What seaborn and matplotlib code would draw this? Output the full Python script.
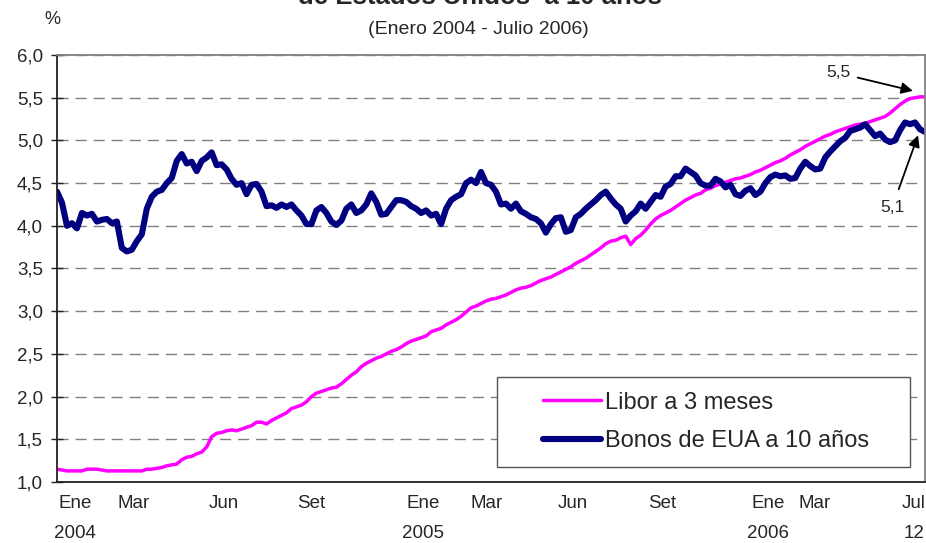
import matplotlib
matplotlib.use("Agg")
import matplotlib.pyplot as plt
from matplotlib.patches import Rectangle
import seaborn as sns
import pandas as pd

# Weekly-ish readings, Jan 2004 - 12 Jul 2006 (equal spacing)
libor = [
    1.15, 1.14, 1.13, 1.13, 1.13, 1.13, 1.15, 1.15, 1.15, 1.14,
    1.13, 1.13, 1.13, 1.13, 1.13, 1.13, 1.13, 1.13, 1.15, 1.15,
    1.16, 1.17, 1.19, 1.20, 1.21, 1.26, 1.29, 1.30, 1.33, 1.35,
    1.41, 1.53, 1.57, 1.58, 1.60, 1.61, 1.60, 1.62, 1.64, 1.66,
    1.70, 1.70, 1.68, 1.72, 1.75, 1.78, 1.81, 1.86, 1.88, 1.90,
    1.94, 2.00, 2.04, 2.06, 2.08, 2.10, 2.11, 2.15, 2.20, 2.25,
    2.29, 2.35, 2.39, 2.42, 2.45, 2.47, 2.50, 2.53, 2.55, 2.58,
    2.62, 2.65, 2.67, 2.69, 2.71, 2.76, 2.78, 2.80, 2.84, 2.87,
    2.90, 2.94, 2.99, 3.04, 3.06, 3.09, 3.12, 3.14, 3.15, 3.17,
    3.19, 3.22, 3.25, 3.27, 3.28, 3.30, 3.33, 3.36, 3.38, 3.40,
    3.43, 3.46, 3.49, 3.52, 3.56, 3.59, 3.62, 3.66, 3.70, 3.74,
    3.79, 3.82, 3.83, 3.86, 3.88, 3.78, 3.85, 3.89, 3.95, 4.02,
    4.08, 4.12, 4.15, 4.18, 4.22, 4.26, 4.30, 4.33, 4.36, 4.38,
    4.42, 4.44, 4.47, 4.49, 4.51, 4.53, 4.55, 4.56, 4.58, 4.60,
    4.63, 4.65, 4.68, 4.71, 4.74, 4.76, 4.79, 4.83, 4.86, 4.89,
    4.93, 4.96, 4.99, 5.02, 5.05, 5.07, 5.10, 5.12, 5.14, 5.16,
    5.18, 5.19, 5.20, 5.22, 5.24, 5.26, 5.28, 5.32, 5.37, 5.42,
    5.46, 5.49, 5.50, 5.51, 5.51,
]

bonos = [
    4.40, 4.27, 4.00, 4.03, 3.97, 4.15, 4.12, 4.14, 4.05, 4.07,
    4.08, 4.03, 4.05, 3.74, 3.70, 3.72, 3.82, 3.90, 4.20, 4.34,
    4.40, 4.42, 4.50, 4.56, 4.76, 4.84, 4.73, 4.75, 4.64, 4.76,
    4.80, 4.86, 4.71, 4.72, 4.66, 4.55, 4.48, 4.50, 4.37, 4.48,
    4.49, 4.40, 4.23, 4.24, 4.21, 4.25,
    4.22, 4.25, 4.18, 4.12, 4.02, 4.02, 4.18, 4.22, 4.15, 4.05,
    4.01, 4.06, 4.20, 4.25, 4.15, 4.18, 4.25, 4.38, 4.28, 4.13,
    4.14, 4.22, 4.30, 4.30, 4.28, 4.23, 4.20, 4.15, 4.18, 4.12,
    4.14, 4.02, 4.20, 4.30, 4.34, 4.37, 4.50, 4.54, 4.50, 4.63,
    4.50, 4.48, 4.40, 4.25,
    4.26, 4.20, 4.26, 4.17, 4.14, 4.10, 4.08, 4.03, 3.92, 4.02,
    4.09, 4.10, 3.93, 3.95, 4.10, 4.14, 4.20, 4.25, 4.30, 4.36,
    4.40, 4.32, 4.25, 4.20, 4.05, 4.12, 4.17, 4.26, 4.20, 4.28,
    4.36, 4.34, 4.46, 4.49, 4.58, 4.58, 4.67, 4.63, 4.59, 4.50,
    4.47, 4.47, 4.55, 4.52,
    4.45, 4.48, 4.37, 4.35, 4.41, 4.44, 4.36, 4.40, 4.50, 4.57,
    4.60, 4.58, 4.59, 4.55, 4.56, 4.67, 4.75, 4.70, 4.66, 4.67,
    4.80, 4.87, 4.93, 4.99, 5.03, 5.11, 5.13, 5.15, 5.19, 5.12,
    5.05, 5.08, 5.01, 4.98, 5.00, 5.12, 5.21, 5.19, 5.21, 5.13,
    5.10,
]

fechas = pd.date_range("2004-01-01", "2006-07-12", periods=len(libor))

tick_labels = ["Ene\n2004", "Mar", "Jun", "Set", "Ene\n2005", "Mar",
               "Jun", "Set", "Ene\n2006", "Mar", "Jul\n12"]
tick_dates = pd.to_datetime([
    "2004-01-20", "2004-03-23", "2004-06-26", "2004-09-27", "2005-01-24",
    "2005-04-02", "2005-07-03", "2005-10-05", "2006-01-26", "2006-03-17",
    "2006-06-30",
])

df = pd.DataFrame({"fecha": fechas, "libor": libor, "bonos": bonos})

sns.set_style("white")
plt.rcParams["font.family"] = ["Liberation Sans", "DejaVu Sans"]

fig = plt.figure(figsize=(9.26, 5.43), dpi=100)
ax = fig.add_axes([57 / 926, 1 - 482 / 543, 868 / 926, 427 / 543])

sns.lineplot(data=df, x="fecha", y="libor", ax=ax, color="#FF00FF",
             linewidth=2.5, label="Libor a 3 meses")
sns.lineplot(data=df, x="fecha", y="bonos", ax=ax, color="#000080",
             linewidth=4.4, label="Bonos de EUA a 10 años",
             solid_joinstyle="round", solid_capstyle="round")

ax.set_xlim(fechas[0], fechas[-1])
ax.set_ylim(1.0, 6.0)
yt = [1.0, 1.5, 2.0, 2.5, 3.0, 3.5, 4.0, 4.5, 5.0, 5.5, 6.0]
ax.set_yticks(yt)
ax.set_yticklabels([f"{v:.1f}".replace(".", ",") for v in yt], fontsize=13.5)
ax.set_xticks(tick_dates)
ax.set_xticklabels(tick_labels, fontsize=13.5, linespacing=2.05, va="top")
ax.tick_params(axis="x", length=0, pad=9)
ax.tick_params(axis="y", direction="inout", length=9, width=1,
               color="#222222", pad=5.5, left=True)
ax.set_xlabel("")
ax.set_ylabel("")

ax.yaxis.grid(True, color="#808080", linestyle=(0, (8, 5)), linewidth=1)
ax.set_axisbelow(True)

for side in ["left", "bottom"]:
    ax.spines[side].set_color("#222222")
    ax.spines[side].set_linewidth(1.3)
for side in ["top", "right"]:
    ax.spines[side].set_color("#808080")
    ax.spines[side].set_linewidth(1.3)

# legend box drawn separately to get the wide side padding of the original
ax.add_patch(Rectangle((0.507, 0.035), 0.476, 0.211, transform=ax.transAxes,
                       facecolor="white", edgecolor="#555555", lw=1.0,
                       zorder=4))
leg = ax.legend(loc="center", bbox_to_anchor=(0.748, 0.1405),
                fontsize=17, frameon=False, handlelength=2.45,
                handletextpad=0.2, borderpad=0.2, labelspacing=0.7,
                borderaxespad=0)
leg.set_zorder(5)
for h in leg.get_lines():
    h.set_solid_capstyle("round")

ax.annotate("5,5", xy=(0.986, 0.916), xycoords="axes fraction",
            xytext=(0.900, 0.958), textcoords="axes fraction",
            fontsize=12.5, ha="center", va="center",
            arrowprops=dict(arrowstyle="-|>", color="black", lw=1.3,
                            mutation_scale=17, shrinkA=3, shrinkB=0))
ax.annotate("5,1", xy=(0.992, 0.812), xycoords="axes fraction",
            xytext=(0.962, 0.642), textcoords="axes fraction",
            fontsize=12.5, ha="center", va="center",
            arrowprops=dict(arrowstyle="-|>", color="black", lw=1.3,
                            mutation_scale=17, shrinkA=6, shrinkB=0))

fig.text(0.518, 1 - 4 / 543, "de Estados Unidos  a 10 años", ha="center",
         va="baseline", fontsize=18.5, fontweight="bold")
fig.text(0.517, 1 - 30 / 543, "(Enero 2004 - Julio 2006)", ha="center",
         va="center", fontsize=14)
fig.text(52 / 926, 1 - 19 / 543, "%", ha="center", va="center", fontsize=13)

fig.savefig("out.png", dpi=100)
